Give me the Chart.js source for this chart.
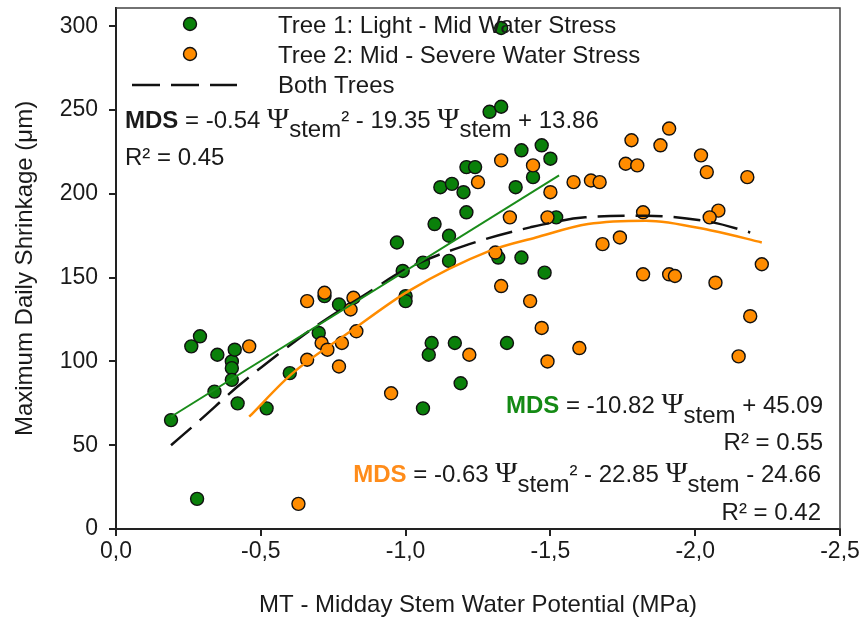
<!DOCTYPE html>
<html>
<head>
<meta charset="utf-8">
<script src="https://cdn.jsdelivr.net/npm/chart.js@4.4.1/dist/chart.umd.min.js"></script>
<style>
  html, body { margin: 0; padding: 0; background: #fff; }
</style>
</head>
<body>
<canvas id="chart" width="860" height="622"></canvas>
<script>
// Midday stem water potential (MPa) vs maximum daily shrinkage (um)

// Tree 1 - light to mid water stress
const tree1Psi = [-0.19, -0.28, -0.26, -0.29, -0.35, -0.40, -0.40, -0.41, -0.40, -0.34,
                  -0.42, -0.52, -0.60, -0.70, -0.72, -0.77, -0.97, -0.99, -1.00, -1.00,
                  -1.06, -1.15, -1.10, -1.15, -1.12, -1.16, -1.20, -1.21, -1.21, -1.24,
                  -1.29, -1.33, -1.33, -1.40, -1.47, -1.50, -1.44, -1.38, -1.32, -1.40,
                  -1.48, -1.52, -1.06, -1.08, -1.09, -1.17, -1.19, -1.35];
const tree1Mds = [65, 18, 109, 115, 104, 100, 96, 107, 89, 82,
                  75, 72, 93, 117, 139, 134, 171, 154, 139, 136,
                  159, 160, 182, 175, 204, 206, 201, 189, 216, 216,
                  249, 252, 299, 226, 229, 221, 210, 204, 162, 162,
                  153, 186, 72, 104, 111, 111, 87, 111];

// Tree 2 - mid to severe water stress
const tree2Psi = [-0.46, -0.63, -0.66, -0.72, -0.82, -0.81, -0.83, -0.71, -0.73, -0.78,
                  -0.66, -0.77, -0.95, -1.22, -1.31, -1.33, -1.43, -1.47, -1.49, -1.25,
                  -1.33, -1.44, -1.50, -1.36, -1.49, -1.58, -1.64, -1.67, -1.76, -1.80,
                  -1.78, -1.88, -1.91, -2.02, -2.04, -2.18, -1.82, -2.08, -2.05, -1.74,
                  -1.68, -2.23, -1.82, -1.91, -1.93, -2.07, -2.19, -2.15, -1.60];
const tree2Mds = [109, 15, 136, 141, 138, 131, 118, 111, 107, 111,
                  101, 97, 81, 104, 165, 145, 136, 120, 100, 207,
                  220, 217, 201, 186, 186, 207, 208, 207, 218, 217,
                  232, 229, 239, 223, 213, 210, 189, 190, 186, 174,
                  170, 158, 152, 152, 151, 147, 127, 103, 108];

// fitted curves
const fit1Psi = [-0.19, -1.53];
const fit1Mds = [67, 211];
const fit2Psi = [-0.46, -0.61, -0.81, -1.01, -1.29, -1.45, -1.63, -1.83, -2.06, -2.23];
const fit2Mds = [67, 93, 118, 142, 166, 174, 182, 184, 178, 171];
const fitBothPsi = [-0.19, -0.29, -0.42, -0.55, -0.69, -0.87, -1.00, -1.22, -1.43, -1.62, -1.83, -2.06, -2.19];
const fitBothMds = [50, 65, 85, 103, 121, 141, 155, 170, 180, 186, 187, 183, 177];

const xTickValues = [0, -0.5, -1.0, -1.5, -2.0, -2.5];
const xTickLabels = ['0,0', '-0,5', '-1,0', '-1,5', '-2,0', '-2,5'];
const yTickValues = [0, 50, 100, 150, 200, 250, 300];

const GREEN = '#0a800a';
const ORANGE = '#ff8c00';
const TEXT = '#1a1a1a';
const SANS = '"Liberation Sans", Arial, sans-serif';
const FONT = '24px ' + SANS;
const BOLD = 'bold 24px ' + SANS;
const PSI = '30px "Liberation Serif", "Times New Roman", serif';

const toPoints = (xs, ys) => xs.map((x, i) => ({ x: x, y: ys[i] }));

function drawRuns(ctx, runs, x, y, alignRight) {
    let total = 0;
    runs.forEach(r => { ctx.font = r.font || FONT; total += ctx.measureText(r.text).width; });
    let cx = alignRight ? x - total : x;
    runs.forEach(r => {
        ctx.font = r.font || FONT;
        ctx.fillStyle = r.color || TEXT;
        ctx.fillText(r.text, cx, y + (r.dy || 0));
        cx += ctx.measureText(r.text).width;
    });
}

function dot(ctx, x, y, color) {
    ctx.beginPath();
    ctx.arc(x, y, 6.5, 0, Math.PI * 2);
    ctx.fillStyle = color;
    ctx.fill();
    ctx.lineWidth = 1.4;
    ctx.strokeStyle = '#111';
    ctx.stroke();
}

const annotations = {
    id: 'annotations',
    afterDraw(chart) {
        const ctx = chart.ctx;
        const a = chart.chartArea;
        ctx.save();

        // frame on top and right
        ctx.strokeStyle = '#444';
        ctx.lineWidth = 1.5;
        ctx.beginPath();
        ctx.moveTo(a.left, a.top);
        ctx.lineTo(a.right, a.top);
        ctx.lineTo(a.right, a.bottom);
        ctx.stroke();

        // legend
        ctx.textBaseline = 'alphabetic';
        dot(ctx, 190, 24, GREEN);
        dot(ctx, 190, 54, ORANGE);
        ctx.setLineDash([28, 11]);
        ctx.lineWidth = 2.5;
        ctx.strokeStyle = '#111';
        ctx.beginPath();
        ctx.moveTo(132, 85);
        ctx.lineTo(237, 85);
        ctx.stroke();
        ctx.setLineDash([]);
        drawRuns(ctx, [{ text: 'Tree 1: Light - Mid Water Stress' }], 278, 33);
        drawRuns(ctx, [{ text: 'Tree 2: Mid - Severe Water Stress' }], 278, 63);
        drawRuns(ctx, [{ text: 'Both Trees' }], 278, 93);

        // equations
        drawRuns(ctx, [
            { text: 'MDS', font: BOLD },
            { text: ' = -0.54 ' },
            { text: 'Ψ', font: PSI },
            { text: 'stem', dy: 9 },
            { text: '² - 19.35 ' },
            { text: 'Ψ', font: PSI },
            { text: 'stem', dy: 9 },
            { text: ' + 13.86' }
        ], 125, 128, false);
        drawRuns(ctx, [{ text: 'R² = 0.45' }], 125, 165, false);

        drawRuns(ctx, [
            { text: 'MDS', font: BOLD, color: '#148a14' },
            { text: ' = -10.82 ' },
            { text: 'Ψ', font: PSI },
            { text: 'stem', dy: 10 },
            { text: ' + 45.09' }
        ], 823, 413, true);
        drawRuns(ctx, [{ text: 'R² = 0.55' }], 823, 450, true);

        drawRuns(ctx, [
            { text: 'MDS', font: BOLD, color: '#ff8c1a' },
            { text: ' = -0.63 ' },
            { text: 'Ψ', font: PSI },
            { text: 'stem', dy: 10 },
            { text: '² - 22.85 ' },
            { text: 'Ψ', font: PSI },
            { text: 'stem', dy: 10 },
            { text: ' - 24.66' }
        ], 821, 482, true);
        drawRuns(ctx, [{ text: 'R² = 0.42' }], 821, 520, true);

        ctx.restore();
    }
};

Chart.defaults.font.family = SANS;
Chart.defaults.color = TEXT;

new Chart(document.getElementById('chart'), {
    type: 'scatter',
    data: {
        datasets: [
            {
                label: 'Tree 1 fit',
                data: toPoints(fit1Psi, fit1Mds),
                showLine: true,
                borderColor: '#1a8c1a',
                borderWidth: 2,
                pointRadius: 0
            },
            {
                label: 'Tree 2 fit',
                data: toPoints(fit2Psi, fit2Mds),
                showLine: true,
                borderColor: ORANGE,
                borderWidth: 2.5,
                pointRadius: 0,
                cubicInterpolationMode: 'monotone'
            },
            {
                label: 'Both Trees',
                data: toPoints(fitBothPsi, fitBothMds),
                showLine: true,
                borderColor: '#111',
                borderWidth: 2.5,
                borderDash: [27, 11],
                pointRadius: 0,
                cubicInterpolationMode: 'monotone'
            },
            {
                label: 'Tree 2: Mid - Severe Water Stress',
                data: toPoints(tree2Psi, tree2Mds),
                backgroundColor: ORANGE,
                borderColor: '#111',
                borderWidth: 1.4,
                pointRadius: 6.5
            },
            {
                label: 'Tree 1: Light - Mid Water Stress',
                data: toPoints(tree1Psi, tree1Mds),
                backgroundColor: GREEN,
                borderColor: '#111',
                borderWidth: 1.4,
                pointRadius: 6.5
            }
        ]
    },
    options: {
        responsive: false,
        animation: false,
        layout: { padding: { top: 7, right: 20, left: 0, bottom: 0 } },
        plugins: {
            legend: { display: false },
            tooltip: { enabled: false }
        },
        scales: {
            x: {
                type: 'linear',
                min: -2.5,
                max: 0,
                reverse: true,
                afterBuildTicks: (scale) => {
                    scale.ticks = xTickValues.map(v => ({ value: v }));
                },
                afterFit: (scale) => {
                    scale.height = 93;
                    scale.paddingLeft = 0;
                    scale.paddingRight = 0;
                },
                ticks: {
                    font: { size: 23 },
                    color: TEXT,
                    padding: 2,
                    maxRotation: 0,
                    callback: (v) => {
                        const i = xTickValues.findIndex(t => Math.abs(t - v) < 1e-6);
                        return i >= 0 ? xTickLabels[i] : '';
                    }
                },
                grid: { drawOnChartArea: false, tickLength: 7, color: '#222', lineWidth: 2 },
                border: { display: true, color: '#222', width: 2 },
                title: {
                    display: true,
                    text: 'MT - Midday Stem Water Potential (MPa)',
                    font: { size: 24 },
                    color: TEXT,
                    padding: { top: 0, bottom: 2 }
                }
            },
            y: {
                min: 0,
                max: 311,
                afterBuildTicks: (scale) => {
                    scale.ticks = yTickValues.map(v => ({ value: v }));
                },
                afterFit: (scale) => {
                    scale.width = 116;
                    scale.paddingTop = 0;
                    scale.paddingBottom = 0;
                },
                ticks: { font: { size: 23 }, color: TEXT, padding: 11 },
                grid: { drawOnChartArea: false, tickLength: 7, color: '#222', lineWidth: 2 },
                border: { display: true, color: '#222', width: 2 },
                title: {
                    display: true,
                    text: 'Maximum Daily Shrinkage (μm)',
                    font: { size: 24 },
                    color: TEXT,
                    padding: { top: 11, bottom: 0 }
                }
            }
        }
    },
    plugins: [annotations]
});
</script>
</body>
</html>
